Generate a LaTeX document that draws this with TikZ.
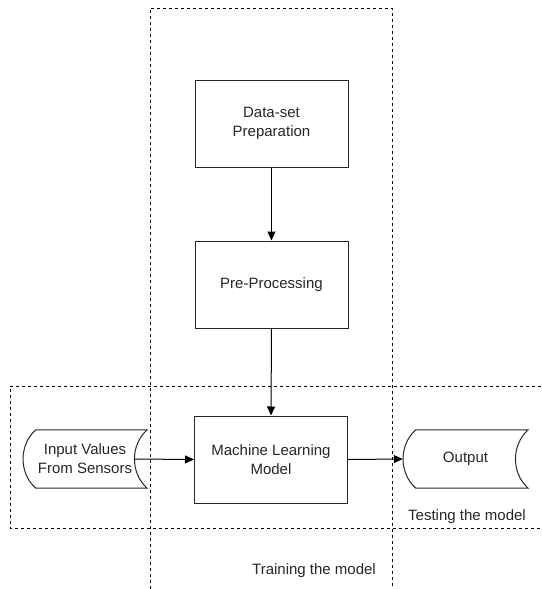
\documentclass[tikz,border=0pt]{standalone}
\usepackage{fontspec}
\setmainfont{Liberation Sans}
\usetikzlibrary{arrows.meta}
\begin{document}
\begin{tikzpicture}[x=1pt,y=-1pt,
  lbl/.style={font=\fontsize{15}{19}\selectfont, text=black!85, align=center, inner sep=0pt},
  procbox/.style={draw=black!85, line width=1pt, minimum width=153pt, minimum height=87pt, lbl},
  storetext/.style={lbl, minimum height=58pt},
  shapeline/.style={draw=black!85, line width=1pt},
  region/.style={draw=black, line width=1pt, dash pattern=on 3pt off 3pt},
  flow/.style={draw=black, line width=1pt, -{Triangle[length=9pt,width=8pt]}}]
\useasboundingbox (0,0) rectangle (541,589);
% regions
\draw[region] (150,589) -- (150,8) -- (392,8) -- (392,589);
\draw[region] (541,386) -- (10,386) -- (10,528) -- (541,528);
% process boxes
\node[procbox] (ds) at (271.5,123.5) {Data-set\\Preparation};
\node[procbox] (pp) at (271.5,284.5) {Pre-Processing};
\node[procbox] (ml) at (271,459.5) {Machine Learning\\Model};
% stored data shapes
\node[storetext, minimum width=124pt] (in) at (85,459) {Input Values\\From Sensors};
\draw[shapeline] ([xshift=13pt]in.north west) -- (in.north east)
  .. controls ([xshift=-17pt,yshift=-15pt]in.north east) and ([xshift=-17pt,yshift=15pt]in.south east) .. (in.south east)
  -- ([xshift=13pt]in.south west)
  .. controls ([xshift=-4pt,yshift=15pt]in.south west) and ([xshift=-4pt,yshift=-15pt]in.north west) .. ([xshift=13pt]in.north west) -- cycle;
\coordinate (inr) at ([xshift=-13pt]in.east);
\node[storetext, minimum width=125pt] (out) at (465.5,459) {Output};
\draw[shapeline] ([xshift=13pt]out.north west) -- (out.north east)
  .. controls ([xshift=-17pt,yshift=-15pt]out.north east) and ([xshift=-17pt,yshift=15pt]out.south east) .. (out.south east)
  -- ([xshift=13pt]out.south west)
  .. controls ([xshift=-4pt,yshift=15pt]out.south west) and ([xshift=-4pt,yshift=-15pt]out.north west) .. ([xshift=13pt]out.north west) -- cycle;
% connectors
\draw[flow] (ds.south) -- (pp.north);
\draw[flow] (pp.south) -- (ml.north);
\draw[flow] (inr) -- (ml.west);
\draw[flow] (ml.east) -- (out.west);
% labels
\node[lbl] (testlbl) at (467,517) {Testing the model};
\node[lbl] (trainlbl) at (314,571) {Training the model};
\end{tikzpicture}
\end{document}
